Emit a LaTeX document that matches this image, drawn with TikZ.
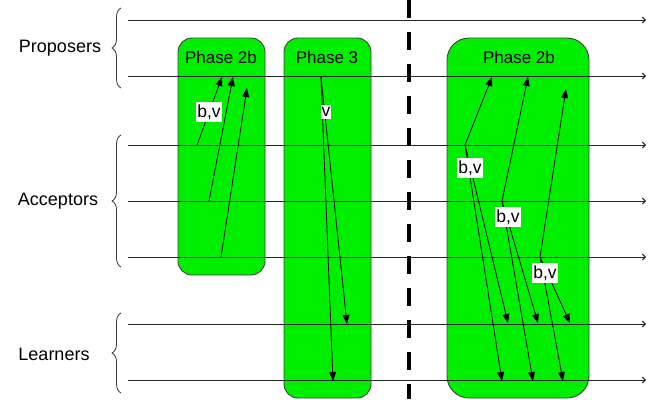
\documentclass[tikz,border=0pt]{standalone}
\usepackage{fontspec}
\setmainfont{Liberation Sans}
\usetikzlibrary{arrows.meta,decorations.pathreplacing}
\definecolor{phasegreen}{RGB}{0,238,0}
\begin{document}
\begin{tikzpicture}[x=1pt,y=-1pt,
  phasebox/.style={draw=black!75, line width=0.9pt, fill=phasegreen},
  phaselabel/.style={font=\fontsize{17}{19}\selectfont, inner sep=0pt},
  rolelabel/.style={font=\fontsize{18}{20}\selectfont, inner sep=0pt},
  msglabel/.style={font=\fontsize{17.5}{19}\selectfont, fill=white, inner xsep=1pt, inner ysep=2.5pt},
  timeline/.style={draw=black!85, line width=1pt, -{Straight Barb[length=3pt,width=6pt]}},
  rolebrace/.style={draw=black!80, line width=0.8pt, decorate, decoration={brace, amplitude=9pt}},
  msg/.style={draw=black, line width=0.8pt, -{Triangle[length=9pt,width=7pt]}},
  cut/.style={draw=black, line width=4pt, dash pattern=on 18pt off 14pt}
]
\useasboundingbox (0,0) rectangle (648,399);

% phase regions
\draw[phasebox, rounded corners=14pt] (178,38) rectangle (265,275);
\draw[phasebox, rounded corners=14pt] (284,38) rectangle (371,398);
\draw[phasebox, rounded corners=22pt] (447,38) rectangle (589,398);
\node[phaselabel] (ph2a) at (221,57) {Phase 2b};
\node[phaselabel] (ph3)  at (327,57) {Phase 3};
\node[phaselabel] (ph2b) at (519,57) {Phase 2b};

% process time lines
\foreach \n/\y in {p1/20, p2/76, a1/145, a2/201, a3/257, l1/324, l2/380} {
  \coordinate (\n s) at (128,\y);
  \coordinate (\n e) at (646,\y);
  \draw[timeline] (\n s) -- (\n e);
}

% role groups
\draw[rolebrace] (121,88) -- (121,8);
\draw[rolebrace] (121,267) -- (121,135);
\draw[rolebrace] (121,393) -- (121,313);
\node[rolelabel] (proposers) at (60,48) {Proposers};
\node[rolelabel] (acceptors) at (58,201) {Acceptors};
\node[rolelabel] (learners)  at (54,354) {Learners};

% separation between rounds
\coordinate (cuttop) at (409,0);
\coordinate (cutbot) at (409,399);
\draw[cut] (cuttop) -- (cutbot);

% phase 2b, first round
\coordinate (x1) at (197,145);
\coordinate (x2) at (209,201);
\coordinate (x3) at (221,257);
\coordinate (y1) at (222,77);
\coordinate (y2) at (233,77);
\coordinate (y3) at (247,88);
\draw[msg] (x1) -- (y1);
\draw[msg] (x2) -- (y2);
\draw[msg] (x3) -- (y3);
\node[msglabel] (bv1) at (209,112) {b,v};

% phase 3
\coordinate (q) at (321,77);
\coordinate (r1) at (347,324);
\coordinate (r2) at (333,381);
\draw[msg] (q) -- (r1);
\draw[msg] (q) -- (r2);
\node[msglabel] (v1) at (326,112) {v};

% phase 2b, second round
\coordinate (u1) at (465,145);
\coordinate (u2) at (502,201);
\coordinate (u3) at (540,257);
\coordinate (w1) at (492,77);
\coordinate (w2) at (528,77);
\coordinate (w3) at (566,89);
\coordinate (m1) at (508,323);
\coordinate (m2) at (538,323);
\coordinate (m3) at (570,323);
\coordinate (n1) at (502,381);
\coordinate (n2) at (533,381);
\coordinate (n3) at (563,381);
\draw[msg] (u1) -- (w1);
\draw[msg] (u2) -- (w2);
\draw[msg] (u3) -- (w3);
\draw[msg] (u1) -- (m1);
\draw[msg] (u1) -- (n1);
\draw[msg] (u2) -- (m2);
\draw[msg] (u2) -- (n2);
\draw[msg] (u3) -- (m3);
\draw[msg] (u3) -- (n3);
\node[msglabel] (bv2) at (470,168) {b,v};
\node[msglabel] (bv3) at (508,217) {b,v};
\node[msglabel] (bv4) at (545,273) {b,v};
\end{tikzpicture}
\end{document}
